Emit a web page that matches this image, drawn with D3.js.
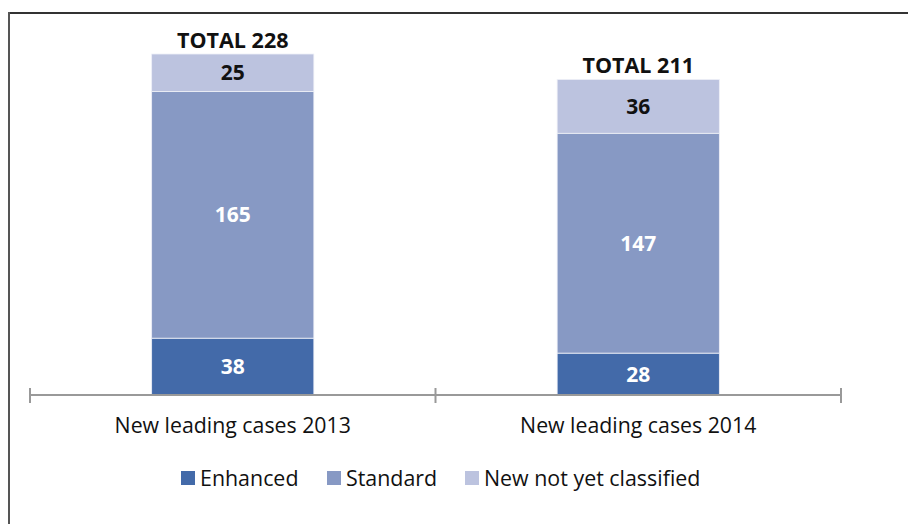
<!DOCTYPE html>
<html><head><meta charset="utf-8">
<script src="https://cdn.jsdelivr.net/npm/d3@7"></script>
<style>body{margin:0;background:#fff;} text{font-family:"Open Sans","Noto Sans",sans-serif;}</style>
</head><body>
<svg id="c" width="908" height="524"></svg>
<script>
const categories = ["New leading cases 2013", "New leading cases 2014"];
const seriesNames = ["Enhanced", "Standard", "New not yet classified"];
const enhanced = [38, 28];
const standard = [165, 147];
const notClassified = [25, 36];
const totals = [228, 211];
const colors = ["#436aa9", "#8799c4", "#bcc3df"];

const svg = d3.select("#c");
// frame
svg.append("line").attr("x1", 8).attr("x2", 908).attr("y1", 13).attr("y2", 13).attr("stroke", "#333").attr("stroke-width", 2);
svg.append("line").attr("x1", 9).attr("x2", 9).attr("y1", 12).attr("y2", 524).attr("stroke", "#555").attr("stroke-width", 2);

const x = d3.scaleBand().domain(categories).range([30, 841]).paddingInner(0.6).paddingOuter(0.3);
const y = d3.scaleLinear().domain([0, 228]).range([395, 54]);

const rows = categories.map((c, i) => ({cat: c, Enhanced: enhanced[i], Standard: standard[i], "New not yet classified": notClassified[i]}));
const stack = d3.stack().keys(seriesNames)(rows);

stack.forEach((layer, li) => {
  const g = svg.append("g");
  g.selectAll("rect").data(layer).join("rect")
    .attr("x", d => x(d.data.cat))
    .attr("width", x.bandwidth())
    .attr("y", d => y(d[1]))
    .attr("height", d => y(d[0]) - y(d[1]))
    .attr("fill", colors[li])
    .attr("stroke", "#eef0f7").attr("stroke-width", 0.8);
  g.selectAll("text").data(layer).join("text")
    .attr("x", d => x(d.data.cat) + x.bandwidth() / 2)
    .attr("y", d => (y(d[0]) + y(d[1])) / 2)
    .attr("dy", "0.36em")
    .attr("text-anchor", "middle")
    .attr("font-size", 21).attr("font-weight", "bold")
    .attr("fill", li === 2 ? "#111" : "#fff")
    .text(d => d[1] - d[0]);
});

// totals
svg.append("g").selectAll("text").data(categories).join("text")
  .attr("x", c => x(c) + x.bandwidth() / 2)
  .attr("y", (c, i) => y(totals[i]) - 6.5)
  .attr("text-anchor", "middle")
  .attr("font-size", 21.5).attr("font-weight", "bold").attr("fill", "#111")
  .text((c, i) => "TOTAL " + totals[i]);

// axis
const axisY = y(0);
const ax = svg.append("g").attr("stroke", "#999").attr("stroke-width", 2);
ax.append("line").attr("x1", x.range()[0]).attr("x2", x.range()[1]).attr("y1", axisY).attr("y2", axisY);
const tickXs = [x.range()[0], (x.range()[0] + x.range()[1]) / 2, x.range()[1]];
ax.selectAll("line.t").data(tickXs).join("line").attr("class", "t")
  .attr("x1", d => d).attr("x2", d => d).attr("y1", axisY - 7).attr("y2", axisY + 8);

svg.append("g").selectAll("text").data(categories).join("text")
  .attr("x", c => x(c) + x.bandwidth() / 2)
  .attr("y", 433)
  .attr("text-anchor", "middle")
  .attr("font-size", 21.3).attr("fill", "#111")
  .text(c => c);

// legend
const legendX = [181, 327, 465];
const lg = svg.append("g").selectAll("g").data(seriesNames).join("g")
  .attr("transform", (d, i) => `translate(${legendX[i]},471)`);
lg.append("rect").attr("width", 14).attr("height", 14).attr("fill", (d, i) => colors[i]);
lg.append("text").attr("x", 19).attr("y", 7).attr("dy", "0.36em")
  .attr("font-size", 21.4).attr("fill", "#111").text(d => d);
</script>
</body></html>
